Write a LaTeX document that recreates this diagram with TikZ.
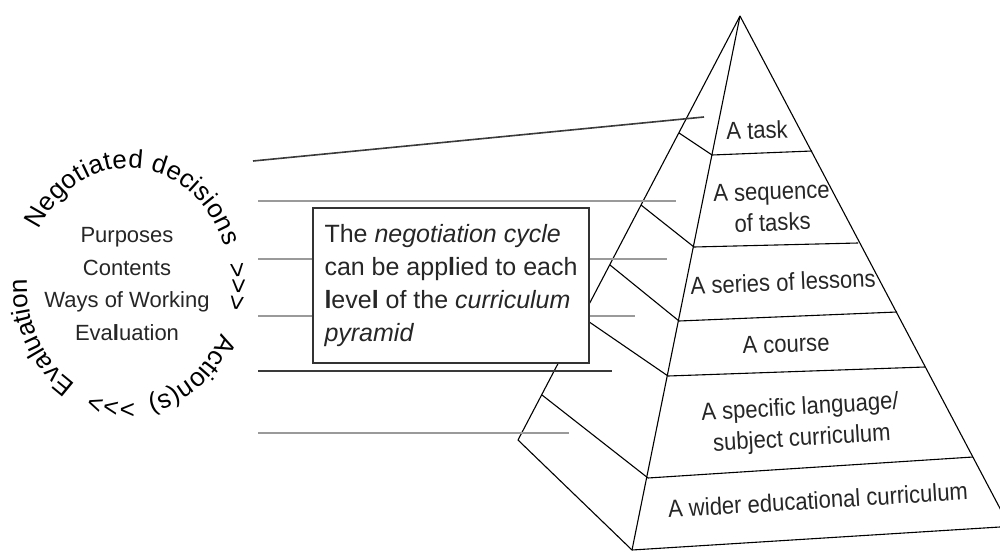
\documentclass[tikz,border=0pt]{standalone}
\usepackage{fontspec}
\setmainfont{Liberation Sans}
\newfontfamily\pyrfont{Liberation Sans}[FakeStretch=0.9]
\usetikzlibrary{decorations.text}
\definecolor{lightline}{HTML}{9A9A9A}
\definecolor{darkline}{HTML}{3A3A3A}
\tikzset{
  pyr/.style={draw=black, line width=1.1pt, line join=round},
  guidegray/.style={draw=lightline, line width=1.8pt},
  guidedark/.style={draw=darkline, line width=1.6pt},
  pyrlabel/.style={font=\pyrfont\fontsize{24.5}{31}\selectfont, align=center, inner sep=0pt, text=black!85},
  curvetext/.style={decorate, decoration={text along path, text align=center}},
}
\newcommand{\cfont}{\fontsize{26}{30}\selectfont}
\begin{document}
\begin{tikzpicture}[x=1pt,y=-1pt]
\useasboundingbox (0,0) rectangle (1000,551);
\fill[white] (0,0) rectangle (1000,551);
\begin{scope}
\clip (0,0) rectangle (1000,551);
% pyramid coordinates
\coordinate (A) at (740,16);
\coordinate (F1) at (712,155); \coordinate (F2) at (694,247); \coordinate (F3) at (679,321);
\coordinate (F4) at (668,376); \coordinate (F5) at (648,478); \coordinate (F6) at (632,550);
\coordinate (R1) at (812,151); \coordinate (R2) at (858,243); \coordinate (R3) at (897,312);
\coordinate (R4) at (925,367); \coordinate (R5) at (973,457); \coordinate (R6) at (1009.5,526.4);
\coordinate (L1) at (679,133); \coordinate (L2) at (641,205); \coordinate (L3) at (610,265);
\coordinate (L4) at (582,317); \coordinate (L5) at (542,395); \coordinate (L6) at (518,440);
% edges
\draw[pyr] (A) -- (F6);
\draw[pyr] (A) -- (R6);
\draw[pyr] (A) -- (L6) -- (F6);
\foreach \i in {1,...,5} { \draw[pyr] (F\i) -- (R\i); \draw[pyr] (L\i) -- (F\i); }
\draw[pyr] (F6) -- (R6);
\end{scope}
% labels in the pyramid
\node[pyrlabel, rotate=2] (t1) at (757,130) {A task};
\node[pyrlabel, rotate=2] (t2) at (772,207) {A sequence\\of tasks};
\node[pyrlabel, rotate=2.5] (t3) at (783,282) {A series of lessons};
\node[pyrlabel, rotate=2] (t4) at (786,344) {A course};
\node[pyrlabel, rotate=3.5] (t5) at (801,424) {A specific language/\\subject curriculum};
\node[pyrlabel, rotate=3.5] (t6) at (818,500) {A wider educational curriculum};
% guide lines
\coordinate (g1a) at (253,161); \coordinate (g1b) at (704,117);
\coordinate (g2a) at (258,201); \coordinate (g2b) at (676,201);
\coordinate (g3a) at (258,259); \coordinate (g3b) at (667,259);
\coordinate (g4a) at (258,316); \coordinate (g4b) at (635,316);
\coordinate (g5a) at (258,371); \coordinate (g5b) at (612,371);
\coordinate (g6a) at (258,433); \coordinate (g6b) at (569,433);
\draw[guidedark] (g1a) -- (g1b);
\draw[guidegray] (g2a) -- (g2b);
\draw[guidegray] (g3a) -- (g3b);
\draw[guidegray] (g4a) -- (g4b);
\draw[guidedark] (g5a) -- (g5b);
\draw[guidegray] (g6a) -- (g6b);
% note box
\node[draw=black!80, line width=1.3pt, fill=white, minimum width=276pt, minimum height=155pt,
      inner xsep=2pt, align=left, text=black!85,
      font=\fontsize{25}{33}\selectfont] (box) at (451,285.5)
  {The \textit{negotiation cycle}\\can be app\textbf{l}ied to each\\\textbf{l}eve\textbf{l} of the \textit{curriculum}\\\textit{pyramid}};
% centre of the cycle
\node[align=center, inner sep=0pt, text=black!85, font=\fontsize{22}{32.7}\selectfont] (items) at (127,284)
  {Purposes\\Contents\\Ways of Working\\Eva\textbf{l}uation};
% cycle text along an ellipse
\path[curvetext, decoration={text={|\cfont|Negotiated decisions}, text align=fit to path}]
  plot[variable=\s, domain=0:1, samples=60] ({128.5+101.5*cos(152-133*\s)},{284.5-116.5*sin(152-133*\s)});
\path[curvetext, decoration={text={|\cfont|>>>}}]
  plot[variable=\s, domain=0:1, samples=20] ({128.5+101.5*cos(12-26*\s)},{284.5-116.5*sin(12-26*\s)});
\path[curvetext, decoration={text={|\cfont|Action(s)}, text align=fit to path}]
  plot[variable=\s, domain=0:1, samples=40] ({128.5+101.5*cos(-24.6-52.4*\s)},{284.5-116.5*sin(-24.6-52.4*\s)});
\path[curvetext, decoration={text={|\cfont|>>>}}]
  plot[variable=\s, domain=0:1, samples=20] ({128.5+101.5*cos(-86-26*\s)},{284.5-116.5*sin(-86-26*\s)});
\path[curvetext, decoration={text={|\cfont|Evaluation}, text align=left}]
  plot[variable=\s, domain=0:1, samples=60] ({128.5+101.5*cos(-121-80*\s)},{284.5-116.5*sin(-121-80*\s)});
\end{tikzpicture}
\end{document}
